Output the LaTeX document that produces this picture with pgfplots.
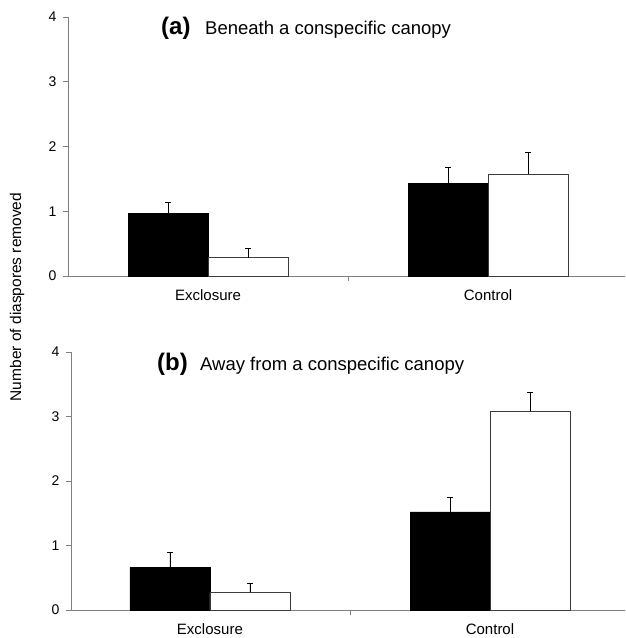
\documentclass[border=0pt]{standalone}
\usepackage{pgfplots}
\pgfplotsset{compat=1.18}
\usepackage{fontspec}
\setmainfont{Liberation Sans}
\definecolor{axisgray}{RGB}{128,128,128}
\definecolor{outl}{RGB}{60,60,60}
\begin{document}
\begin{tikzpicture}
\useasboundingbox (0pt,0pt) rectangle (625pt,638pt);
\pgfplotsset{
 panel/.style={
  scale only axis,
  axis lines*=left,
  axis line style={axisgray, line width=0.8pt, -},
  ymin=0, ymax=4, ytick={0,1,2,3,4},
  xtick={0.5}, xticklabels={},
  extra x ticks={0,1}, extra x tick labels={Exclosure,Control},
  extra x tick style={major tick length=0pt, tick label style={font=\fontsize{15}{17}\selectfont, yshift=-10pt}},
  tick align=outside, major tick length=5pt,
  tick style={axisgray, line width=0.8pt},
  yticklabel style={font=\fontsize{14}{16}\selectfont, xshift=-3pt},
  /pgf/number format/assume math mode=true,
  ybar, bar width=80pt,
  clip=false,
 },
 blackbar/.style={ybar, bar shift=-40pt, fill=black, draw=black, line width=0.8pt,
   error bars/.cd, y dir=plus, y explicit,
   error bar style={black, line width=0.8pt},
   error mark options={rotate=90, black, mark size=3pt, line width=0.8pt}},
 whitebar/.style={ybar, bar shift=40pt, fill=white, draw=outl, line width=0.8pt,
   error bars/.cd, y dir=plus, y explicit,
   error bar style={black, line width=0.8pt},
   error mark options={rotate=90, black, mark size=3pt, line width=0.8pt}},
}
% Panel (a)
\begin{axis}[panel, at={(68pt,362pt)}, anchor=south west, width=557pt, height=259pt,
  xmin=-0.5, xmax=1.489]
\addplot[blackbar] coordinates {(0,0.96) +- (0,0.18) (1,1.43) +- (0,0.25)};
\addplot[whitebar] coordinates {(0,0.28) +- (0,0.14) (1,1.57) +- (0,0.34)};
\end{axis}
% Panel (b)
\begin{axis}[panel, at={(71pt,28pt)}, anchor=south west, width=554pt, height=258pt,
  xmin=-0.496, xmax=1.482]
\addplot[blackbar] coordinates {(0,0.66) +- (0,0.23) (1,1.52) +- (0,0.23)};
\addplot[whitebar] coordinates {(0,0.275) +- (0,0.135) (1,3.08) +- (0,0.30)};
\end{axis}
\node[anchor=base west, inner sep=0, font=\fontsize{24}{26}\selectfont\bfseries] at (161pt,603.5pt) {(a)};
\node[anchor=base west, inner sep=0, font=\fontsize{18.5}{20}\selectfont] at (205pt,603.5pt) {Beneath a conspecific canopy};
\node[anchor=base west, inner sep=0, font=\fontsize{24}{26}\selectfont\bfseries] at (157pt,267.3pt) {(b)};
\node[anchor=base west, inner sep=0, font=\fontsize{18.5}{20}\selectfont] at (200pt,267.3pt) {Away from a conspecific canopy};
\node[rotate=90, font=\fontsize{15.5}{17}\selectfont] at (17pt,341pt) {Number of diaspores removed};
\end{tikzpicture}
\end{document}
